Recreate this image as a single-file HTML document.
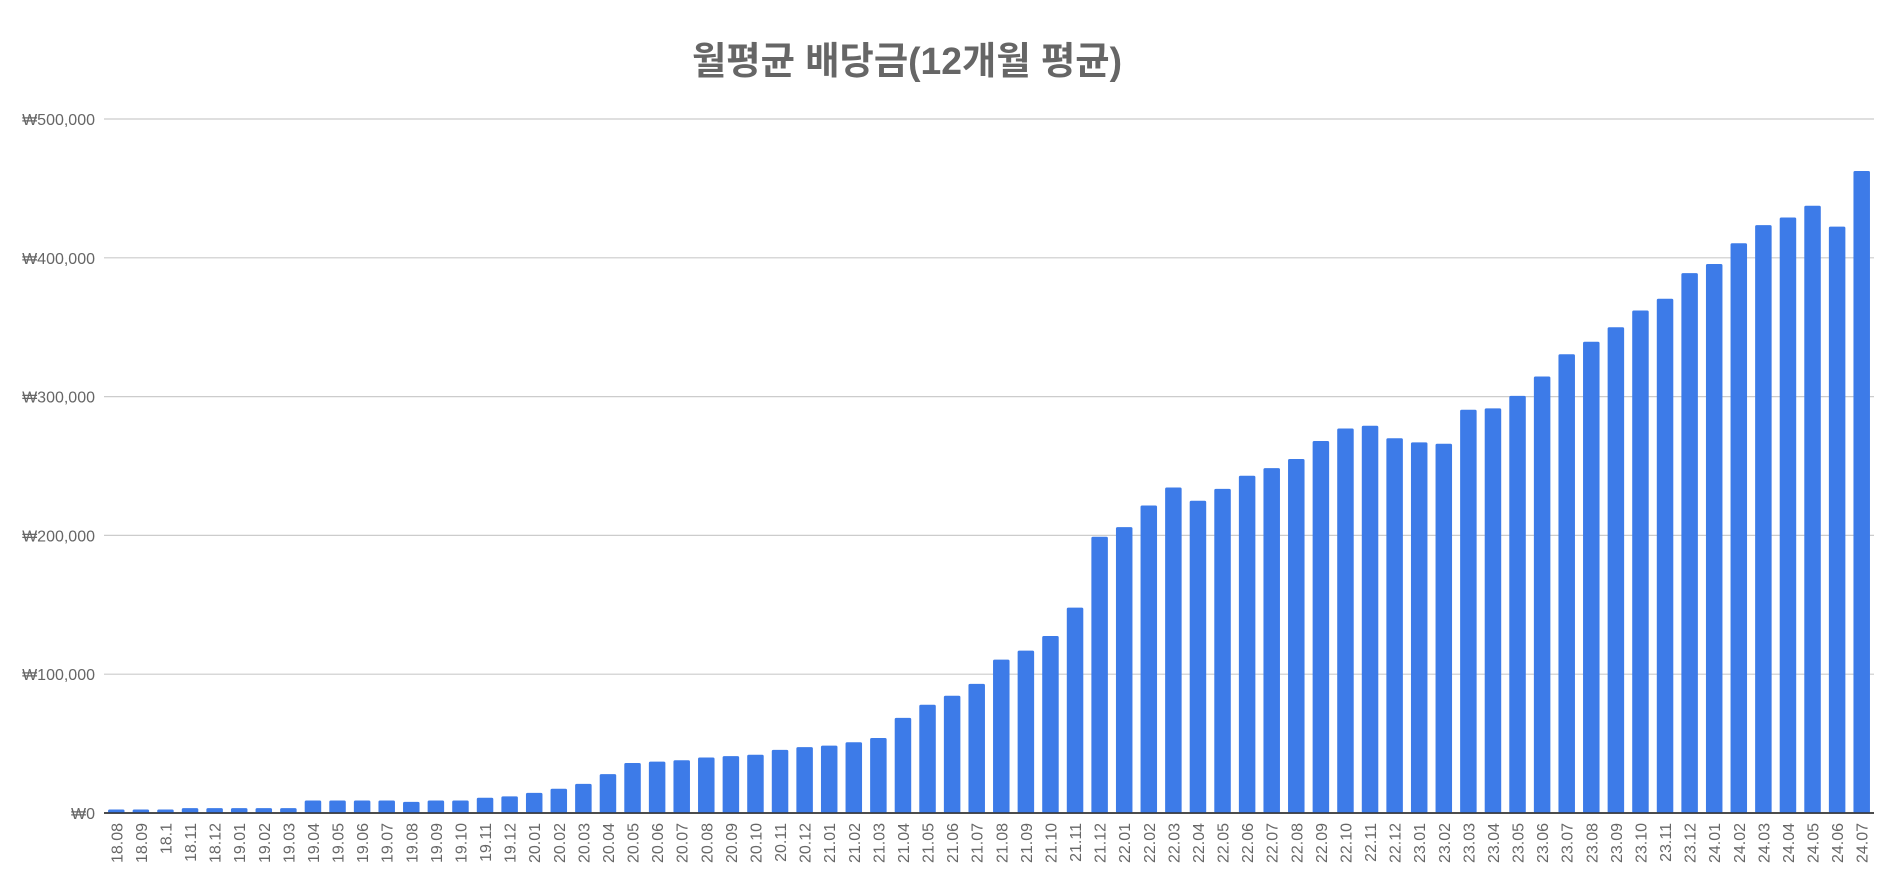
<!DOCTYPE html>
<html><head><meta charset="utf-8"><style>
html,body{margin:0;padding:0;background:#fff;}
svg{display:block;}
</style></head><body>
<svg id="chart" width="1904" height="896" xmlns="http://www.w3.org/2000/svg" font-family="'Liberation Sans','Noto Sans CJK KR',sans-serif">
<text x="907" y="74" text-anchor="middle" font-size="38" font-weight="bold" fill="#666" font-family="'Liberation Sans','Noto Sans CJK KR',sans-serif" textLength="430" lengthAdjust="spacingAndGlyphs">월평균 배당금(12개월 평균)</text>
<g id="grid"></g><g id="bars"></g><g id="xlabels"></g>
</svg>
<script>
const categories = ["18.08","18.09","18.1","18.11","18.12","19.01","19.02","19.03","19.04","19.05","19.06","19.07","19.08","19.09","19.10","19.11","19.12","20.01","20.02","20.03","20.04","20.05","20.06","20.07","20.08","20.09","20.10","20.11","20.12","21.01","21.02","21.03","21.04","21.05","21.06","21.07","21.08","21.09","21.10","21.11","21.12","22.01","22.02","22.03","22.04","22.05","22.06","22.07","22.08","22.09","22.10","22.11","22.12","23.01","23.02","23.03","23.04","23.05","23.06","23.07","23.08","23.09","23.10","23.11","23.12","24.01","24.02","24.03","24.04","24.05","24.06","24.07"];
const values = [2500,2500,2500,3500,3500,3500,3500,3500,9000,9000,9000,9000,8000,9000,9000,11000,12000,14500,17500,21000,28000,36000,37000,38000,40000,41000,42000,45500,47500,48500,51000,54000,68500,78000,84500,93000,110500,117000,127500,148000,199000,206000,221500,234500,225000,233500,243000,248500,255000,268000,277000,279000,270000,267000,266000,290500,291500,300500,314500,330500,339500,350000,362000,370500,389000,395500,410500,423500,429000,437500,422500,462500];
const tickValues = [0,100000,200000,300000,400000,500000];
const tickLabels = ["₩0","₩100,000","₩200,000","₩300,000","₩400,000","₩500,000"];

const NS="http://www.w3.org/2000/svg";
const L=104,R=1874,Y0=813,Ymax=119,VMAX=500000;
const y=v=>Y0-(v/VMAX)*(Y0-Ymax);
const band=(R-L)/categories.length;
const x=i=>L+band*i+band/2;
const bw=16.5;
const grid=document.getElementById('grid'),bars=document.getElementById('bars'),xl=document.getElementById('xlabels');
tickValues.forEach((t,i)=>{
  const ln=document.createElementNS(NS,'line');
  
  
  ln.setAttribute('x1',L);ln.setAttribute('x2',R);ln.setAttribute('y1',y(t));ln.setAttribute('y2',y(t));
  ln.setAttribute('stroke',t===0?'#333':'#ccc');ln.setAttribute('stroke-width',t===0?1.5:1.2);
  grid.appendChild(ln);
  const tx=document.createElementNS(NS,'text');
  
  
  tx.setAttribute('x',95);tx.setAttribute('y',y(t)+6);tx.setAttribute('text-anchor','end');
  tx.setAttribute('font-size','16');tx.setAttribute('fill','#666');
  tx.textContent=tickLabels[i];
  grid.appendChild(tx);
});
categories.forEach((c,i)=>{
  const r=document.createElementNS(NS,'rect');
  
  
  r.setAttribute('x',x(i)-bw/2);r.setAttribute('y',y(values[i]));
  r.setAttribute('width',bw);r.setAttribute('height',Y0-y(values[i]));
  r.setAttribute('rx',1.5);r.setAttribute('fill','#3d7be8');
  bars.appendChild(r);
  const tx=document.createElementNS(NS,'text');
  
  
  tx.setAttribute('transform','translate('+(x(i)+6)+','+(Y0+10)+') rotate(-90)');
  tx.setAttribute('text-anchor','end');tx.setAttribute('font-size','16');tx.setAttribute('fill','#666');
  tx.textContent=c;
  xl.appendChild(tx);
});
// redraw baseline on top
const base=document.createElementNS(NS,'line');


base.setAttribute('x1',L);base.setAttribute('x2',R);base.setAttribute('y1',Y0);base.setAttribute('y2',Y0);
base.setAttribute('stroke','#333');base.setAttribute('stroke-width',1.5);
document.getElementById('chart').appendChild(base);
</script>
</body></html>
